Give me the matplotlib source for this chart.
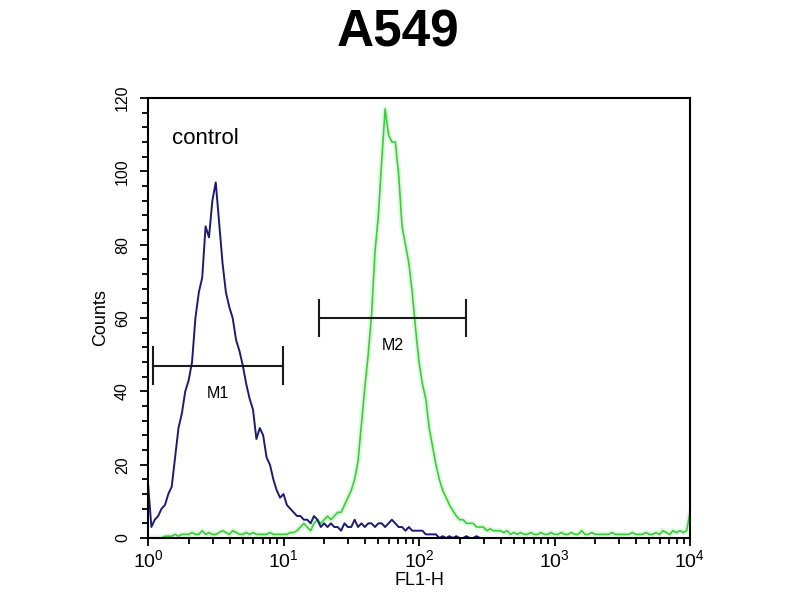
import numpy as np
import matplotlib
matplotlib.use("Agg")
import matplotlib.pyplot as plt
from matplotlib.ticker import FixedLocator, NullFormatter

plt.rcParams['font.family'] = ['Liberation Sans', 'DejaVu Sans']
plt.rcParams['mathtext.fontset'] = 'custom'
plt.rcParams['mathtext.rm'] = 'Liberation Sans'

# channel positions, log10(FL1-H), one every 0.025 decade from 10^0 to 10^4
log_channels = [i * 0.025 for i in range(161)]

# control (blue) histogram counts
control_counts = [
    15, 3, 5, 6, 8,
    9, 12, 14, 22, 30,
    34, 40, 43, 48, 60,
    67, 71, 85, 82, 92,
    97, 86, 75, 67, 63,
    60, 54, 51, 47, 42,
    38, 35, 27, 30, 28,
    22, 20, 16, 13, 11,
    12, 9, 8, 7, 6,
    6, 5, 5, 4, 6,
    5, 3, 4, 3, 4,
    3, 3, 2, 4, 3,
    3, 5, 3, 4, 3,
    4, 4, 3, 4, 4,
    3, 4, 5, 4, 3,
    3, 2, 3, 2, 2,
    2, 2, 1, 1, 1,
    1, 0, 0.5, 0, 0.5,
    0, 0.5, 0, 0, 0.5,
    0, 0, 0.5, 0, 0,
    0, 0, 0, 0, 0, 0, 0, 0, 0, 0,
    0, 0, 0, 0, 0, 0, 0, 0, 0, 0,
    0, 0, 0, 0, 0, 0, 0, 0, 0, 0,
    0, 0, 0, 0, 0, 0, 0, 0, 0, 0,
    0, 0, 0, 0, 0, 0, 0, 0, 0, 0,
    0, 0, 0, 0, 0, 0, 0, 0, 0, 0,
    0,
]

# antibody-stained sample (green) histogram counts
sample_counts = [
    0, 0, 0, 0, 0,
    0.5, 0.5, 0.5, 1, 0.5,
    1, 1, 1, 1.5, 1,
    1, 2, 1, 1.5, 1,
    1, 1.5, 2, 1.5, 1,
    2, 1.5, 1, 1, 1.5,
    1, 1.5, 1, 1, 1,
    1, 1.5, 1, 1, 1,
    1, 1, 1.5, 1.5, 2,
    3, 4, 3, 2, 4,
    5, 4, 5, 6, 5,
    6, 7, 7, 9, 11,
    13, 16, 21, 31, 41,
    50, 61, 78, 88, 103,
    117, 110, 108, 108, 99,
    85, 80, 75, 67, 57,
    48, 42, 38, 30, 25,
    20, 16, 13, 11, 9,
    7.5, 6, 5, 5, 4,
    4, 4, 3, 3, 3,
    2, 2.5, 2, 2, 2,
    1.5, 2, 1, 1.5, 1,
    1.5, 1, 1, 1.5, 1,
    1, 1.5, 1, 1, 1.5,
    1, 1, 1.5, 1, 1,
    1.5, 1, 1, 2, 1,
    1, 1.5, 1, 1, 1,
    1, 1, 1.5, 1, 1,
    1, 1, 1, 1.5, 1,
    1, 1, 1.5, 1, 1,
    1.5, 1, 2, 1.5, 1,
    2, 1.5, 2, 1.5, 2,
    7,
]

# marker gates: name, start, end, height, label height
markers = [
    ("M1", 1.08, 9.97, 47, 39.5),
    ("M2", 18.4, 221, 60, 52.6),
]

x = np.power(10.0, log_channels)

fig = plt.figure(figsize=(8, 6), dpi=100)
ax = fig.add_axes([0.185, 0.1033, 0.6775, 0.7333])

ax.plot(x, sample_counts, color='#a8f0a8', lw=4, alpha=0.35, solid_joinstyle='round')
ax.plot(x, sample_counts, color='#3ccc3c', lw=1.2)
ax.plot(x, control_counts, color='#1c1c72', lw=1.4)

for name, x0, x1, h, ly in markers:
    ax.plot([x0, x1], [h, h], color='#1a1a1a', lw=1.5)
    ax.plot([x0, x0], [h - 5, h + 5], color='#1a1a1a', lw=1.5)
    ax.plot([x1, x1], [h - 5, h + 5], color='#1a1a1a', lw=1.5)
    ax.text(np.sqrt(x0 * x1), ly, name, ha='center', va='center', fontsize=11.5)

ax.text(1.5, 109, "control", fontsize=16, ha='left', va='center')

ax.set_xscale('log')
ax.set_xlim(1, 10000)
ax.set_ylim(0, 120)

ax.xaxis.set_major_locator(FixedLocator([1, 10, 100, 1000, 10000]))
ax.set_xticklabels([r'$10^{0}$', r'$10^{1}$', r'$10^{2}$', r'$10^{3}$', r'$10^{4}$'], fontsize=14)
minors = [m * 10 ** d for d in range(4) for m in range(2, 10)]
ax.xaxis.set_minor_locator(FixedLocator(minors))
ax.xaxis.set_minor_formatter(NullFormatter())

ax.set_yticks([0, 20, 40, 60, 80, 100, 120])
ax.set_yticks(range(0, 121, 4), minor=True)
ax.set_yticklabels(['0', '20', '40', '60', '80', '100', '120'], rotation=90, va='center', fontsize=11.5)

ax.tick_params(which='major', direction='out', length=6, width=1.3, pad=2)
ax.tick_params(which='minor', direction='out', length=4, width=1.3)
ax.tick_params(axis='y', which='major', pad=7)
ax.tick_params(top=False, right=False)

for s in ax.spines.values():
    s.set_linewidth(1.5)

ax.set_xlabel("FL1-H", fontsize=13, labelpad=0)
ax.set_ylabel("Counts", fontsize=13, labelpad=4)

fig.text(0.4975, 0.945, "A549", fontsize=37, fontweight='bold', ha='center', va='center')

fig.savefig("out.png", dpi=100, facecolor='white')
